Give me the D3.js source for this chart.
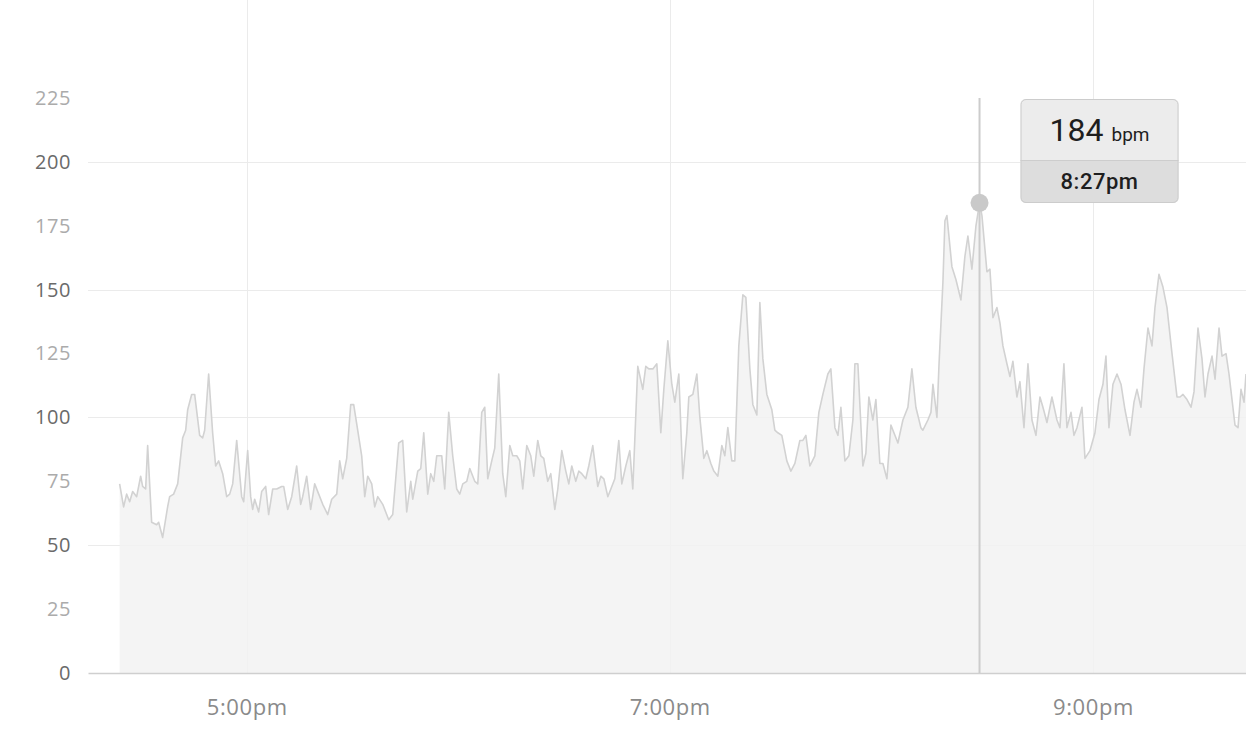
<!DOCTYPE html>
<html>
<head>
<meta charset="utf-8">
<script src="https://cdn.jsdelivr.net/npm/d3@7"></script>
<style>
  html, body { margin: 0; padding: 0; background: #fff; }
  svg { display: block; }
</style>
</head>
<body>
<svg id="chart" width="1246" height="736"></svg>
<script>
// ---- data ----
const times = ["16:23:58","16:25:06","16:25:57","16:26:49","16:27:40","16:28:48","16:29:56","16:30:30","16:31:21","16:31:55","16:33:03","16:34:28","16:35:02","16:36:10","16:37:35","16:38:09","16:39:17","16:40:26","16:41:51","16:42:42","16:43:16","16:44:24","16:45:15","16:46:40","16:47:31","16:48:05","16:49:13","16:50:21","16:51:12","16:52:03","16:53:12","16:54:20","16:55:11","16:56:02","16:57:10","16:58:35","16:59:09","17:00:17","17:01:08","17:01:42","17:02:16","17:03:24","17:04:15","17:05:23","17:06:14","17:07:23","17:08:31","17:09:56","17:10:30","17:11:38","17:12:46","17:14:11","17:15:19","17:15:53","17:17:01","17:18:09","17:19:17","17:20:26","17:21:34","17:22:59","17:24:07","17:25:32","17:26:23","17:27:14","17:28:22","17:29:30","17:30:21","17:31:29","17:32:37","17:33:29","17:34:20","17:35:28","17:36:19","17:37:10","17:38:35","17:40:17","17:41:25","17:43:07","17:44:15","17:45:23","17:46:32","17:47:06","17:48:31","17:49:22","17:50:13","17:51:21","17:52:12","17:53:03","17:53:54","17:55:19","17:56:10","17:57:18","17:58:26","17:59:34","18:00:26","18:01:17","18:02:25","18:03:16","18:04:41","18:05:32","18:06:40","18:07:31","18:08:22","18:09:30","18:10:21","18:11:29","18:12:37","18:13:29","18:14:37","18:15:28","18:16:36","18:17:27","18:18:18","18:19:26","18:20:34","18:21:25","18:22:33","18:23:24","18:24:15","18:25:23","18:26:14","18:27:23","18:28:14","18:29:22","18:30:30","18:31:21","18:32:12","18:33:20","18:34:11","18:35:02","18:36:10","18:37:01","18:38:09","18:39:34","18:40:26","18:41:17","18:42:25","18:43:33","18:44:24","18:45:32","18:46:23","18:47:31","18:48:39","18:49:30","18:50:55","18:52:20","18:53:11","18:54:03","18:55:11","18:56:19","18:57:27","18:58:18","18:59:26","19:00:34","19:01:25","19:02:33","19:03:41","19:04:49","19:05:23","19:06:32","19:07:40","19:08:31","19:09:39","19:10:30","19:11:38","19:12:29","19:13:37","19:14:45","19:15:36","19:16:27","19:17:35","19:18:26","19:19:34","19:20:43","19:21:34","19:22:42","19:23:33","19:24:41","19:25:32","19:26:23","19:27:31","19:28:56","19:29:47","19:30:38","19:31:46","19:33:11","19:34:20","19:35:28","19:36:53","19:37:44","19:38:35","19:39:43","19:41:08","19:42:16","19:43:24","19:44:49","19:45:40","19:46:49","19:47:40","19:48:31","19:49:39","19:50:47","19:51:55","19:52:29","19:53:20","19:54:45","19:55:36","19:56:27","19:57:35","19:58:26","19:59:34","20:00:26","20:01:34","20:02:42","20:03:50","20:04:41","20:06:06","20:07:31","20:08:39","20:09:47","20:11:12","20:11:46","20:13:11","20:14:03","20:14:37","20:15:45","20:16:19","20:17:27","20:18:01","20:18:35","20:20:00","20:21:08","20:22:33","20:23:41","20:24:32","20:25:40","20:26:49","20:27:50","20:28:31","20:29:56","20:30:47","20:31:38","20:32:46","20:33:37","20:34:28","20:35:36","20:36:27","20:37:18","20:38:26","20:39:17","20:40:26","20:41:34","20:42:42","20:43:50","20:44:58","20:45:49","20:46:57","20:48:22","20:49:47","20:50:38","20:51:46","20:52:37","20:53:46","20:54:37","20:55:28","20:56:53","20:57:44","20:59:09","21:00:34","21:01:42","21:02:50","21:03:41","21:04:32","21:05:40","21:06:49","21:07:57","21:09:05","21:10:30","21:11:38","21:12:29","21:13:37","21:14:28","21:15:36","21:16:44","21:17:35","21:18:43","21:19:51","21:21:00","21:22:25","21:23:50","21:24:41","21:25:32","21:26:40","21:27:48","21:28:39","21:29:47","21:30:55","21:31:46","21:32:37","21:33:46","21:34:37","21:35:45","21:36:36","21:37:44","21:38:35","21:39:26","21:40:17","21:41:08","21:41:59","21:42:50","21:43:24"];

const bpm = [74,65,70,67,71,69,77,73,72,89,59,58,59,53,65,69,70,74,92,95,103,109,109,93,92,95,117,94,81,83,78,69,70,74,91,69,67,87,69,64,68,63,71,73,62,72,72,73,73,64,69,81,66,69,77,64,74,70,66,62,68,70,83,76,84,105,105,95,85,69,77,74,65,69,66,60,62,90,91,63,75,68,79,80,94,70,78,75,85,85,72,102,85,72,70,74,75,80,75,74,102,104,76,83,88,117,78,69,89,85,85,83,72,89,85,77,91,85,84,75,78,64,72,87,79,74,81,75,79,78,76,81,89,73,77,76,69,73,76,91,74,81,87,72,120,111,120,119,119,121,94,111,130,113,106,117,76,94,108,109,117,100,84,87,82,79,77,89,85,96,83,83,128,148,147,119,105,101,145,123,109,103,95,94,93,83,79,82,91,91,93,81,85,102,109,117,119,96,93,104,83,85,99,121,121,81,86,108,99,107,82,82,76,97,93,90,99,104,119,104,96,95,99,102,113,100,120,153,177,179,159,154,146,163,171,158,175,184,179,157,158,139,143,137,128,121,116,122,108,114,96,121,99,93,108,104,98,108,99,96,121,96,102,93,96,104,84,87,94,107,113,124,96,113,117,113,103,93,106,111,104,119,135,128,143,156,151,143,125,108,108,109,107,104,110,135,123,108,117,124,115,135,124,125,117,107,97,96,111,106,117];

const yTicks = [0, 25, 50, 75, 100, 125, 150, 175, 200, 225];
const yGrid = [50, 100, 150, 200];
const xTicks = ["17:00:00", "19:00:00", "21:00:00"];
const xStart = "16:15:00";
const unit = "bpm";

(function () {
  const parse = d3.timeParse("%H:%M:%S");
  const data = times.map((t, i) => ({ t: parse(t), v: bpm[i] }));

  const svg = d3.select("#chart");
  const pLeft = 88, pRight = 1246, pTop = 98, pBottom = 673;

  const x = d3.scaleTime()
    .domain([parse(xStart), data[data.length - 1].t])
    .range([pLeft, pRight]);
  const y = d3.scaleLinear().domain([0, 225]).range([pBottom, pTop]);

  // vertical grid lines
  svg.append("g").selectAll("line")
    .data(xTicks.map(parse)).enter().append("line")
    .attr("x1", d => Math.round(x(d)) + 0.5).attr("x2", d => Math.round(x(d)) + 0.5)
    .attr("y1", 0).attr("y2", pBottom)
    .attr("stroke", "#ebebeb").attr("stroke-width", 1);

  // horizontal grid lines
  svg.append("g").selectAll("line")
    .data(yGrid).enter().append("line")
    .attr("x1", pLeft).attr("x2", pRight)
    .attr("y1", d => Math.round(y(d)) + 0.5).attr("y2", d => Math.round(y(d)) + 0.5)
    .attr("stroke", "#ebebeb").attr("stroke-width", 1);

  // area + line
  const area = d3.area().x(d => x(d.t)).y0(y(0)).y1(d => y(d.v));
  const line = d3.line().x(d => x(d.t)).y(d => y(d.v));

  svg.append("path").datum(data).attr("d", area)
    .attr("fill", "#f2f2f2").attr("fill-opacity", 0.85);

  svg.append("path").datum(data).attr("d", line)
    .attr("fill", "none").attr("stroke", "#d2d2d2")
    .attr("stroke-width", 1.6).attr("stroke-linejoin", "round");

  // y axis labels
  const yAxis = d3.axisLeft(y).tickValues(yTicks).tickSize(0).tickPadding(0);
  const gy = svg.append("g").attr("transform", "translate(71,0)").call(yAxis);
  gy.select(".domain").remove();
  gy.selectAll("text")
    .attr("font-family", "'Open Sans', Lato, sans-serif")
    .attr("font-size", 20)
    .attr("letter-spacing", 0.6)
    .attr("fill", d => (d % 50 === 0 ? "#6a6a6a" : "#ababab"));

  // x axis
  const fmt = d3.timeFormat("%-I:%M%p");
  const xAxis = d3.axisBottom(x).tickValues(xTicks.map(parse))
    .tickSize(0).tickPadding(0).tickFormat(d => fmt(d).toLowerCase());
  const gx = svg.append("g").attr("transform", `translate(0,${pBottom})`).call(xAxis);
  gx.select(".domain").attr("stroke", "#cfcfcf").attr("stroke-width", 1.5);
  gx.selectAll("text")
    .attr("dy", 0).attr("y", 42)
    .attr("font-family", "'Open Sans', Lato, sans-serif")
    .attr("font-size", 22)
    .attr("letter-spacing", 0.6)
    .attr("fill", "#8a8a8a");

  // highlighted peak
  const peak = data.reduce((a, b) => (b.v > a.v ? b : a));
  const px = x(peak.t), py = y(peak.v);

  svg.append("line")
    .attr("x1", px).attr("x2", px).attr("y1", pTop).attr("y2", pBottom)
    .attr("stroke", "#cccccc").attr("stroke-width", 2);
  svg.append("circle").attr("cx", px).attr("cy", py).attr("r", 9)
    .attr("fill", "#c9c9c9");

  // tooltip
  const tx = px + 41, ty = pTop + 1, tw = 158, th = 104, split = 61;
  const tip = svg.append("g");
  const clipId = "tipclip";
  svg.append("clipPath").attr("id", clipId).append("rect")
    .attr("x", tx).attr("y", ty).attr("width", tw).attr("height", th).attr("rx", 5);
  tip.append("rect").attr("x", tx).attr("y", ty).attr("width", tw).attr("height", th)
    .attr("rx", 5).attr("fill", "#ececec");
  tip.append("rect").attr("x", tx).attr("y", ty + split).attr("width", tw).attr("height", th - split)
    .attr("fill", "#dddddd").attr("clip-path", `url(#${clipId})`);
  tip.append("line").attr("x1", tx).attr("x2", tx + tw)
    .attr("y1", ty + split + 0.5).attr("y2", ty + split + 0.5)
    .attr("stroke", "#cdcdcd");
  tip.append("rect").attr("x", tx + 0.5).attr("y", ty + 0.5).attr("width", tw - 1).attr("height", th - 1)
    .attr("rx", 5).attr("fill", "none").attr("stroke", "#cccccc");

  const t1 = tip.append("text")
    .attr("x", tx + tw / 2).attr("y", ty + 42)
    .attr("text-anchor", "middle")
    .attr("font-family", "Roboto, 'DejaVu Sans', sans-serif")
    .attr("fill", "#1e1e1e");
  t1.append("tspan").attr("font-size", 32).text(peak.v);
  t1.append("tspan").attr("font-size", 19).attr("dx", 8).text(unit);

  tip.append("text")
    .attr("x", tx + tw / 2).attr("y", ty + 90)
    .attr("text-anchor", "middle")
    .attr("font-family", "Roboto, 'DejaVu Sans', sans-serif")
    .attr("font-size", 22).attr("font-weight", 500)
    .attr("letter-spacing", 0.5)
    .attr("fill", "#1e1e1e")
    .text(fmt(peak.t).toLowerCase());
})();
</script>
</body>
</html>
